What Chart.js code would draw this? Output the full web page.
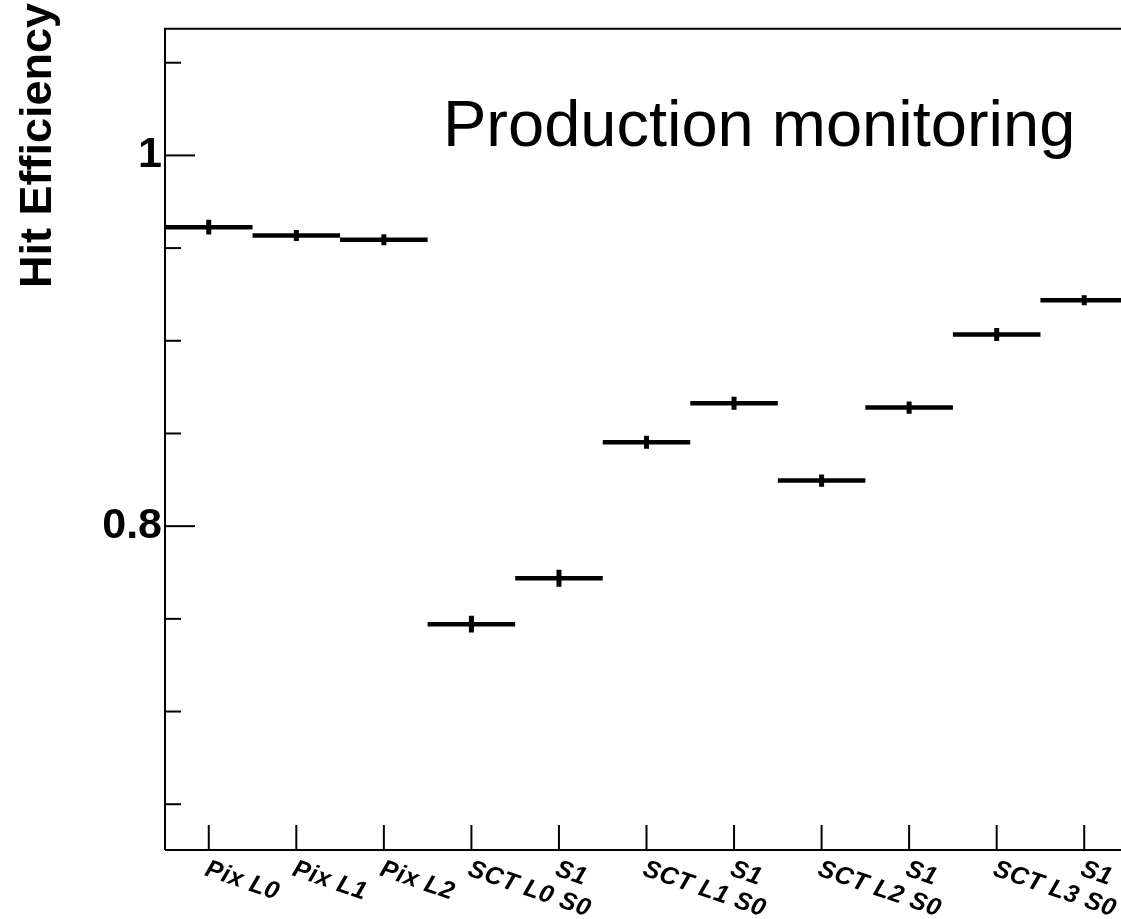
<!DOCTYPE html>
<html>
<head>
<meta charset="utf-8">
<title>Hit Efficiency</title>
<script src="https://cdn.jsdelivr.net/npm/chart.js@4.4.1/dist/chart.umd.min.js"></script>
<style>
  html, body { margin: 0; padding: 0; background: #fff; overflow: hidden; }
  #wrap { position: absolute; left: 0; top: 0; width: 1200px; height: 919px; }
</style>
</head>
<body>
<div id="wrap"><canvas id="effChart" width="1200" height="919"></canvas></div>
<script>
"use strict";

// data
const binLabels = ['Pix L0', 'Pix L1', 'Pix L2', 'SCT L0 S0', 'S1', 'SCT L1 S0', 'S1', 'SCT L2 S0', 'S1', 'SCT L3 S0', 'S1'];
const hitEfficiency = [0.9613, 0.9568, 0.9545, 0.7471, 0.7719, 0.8453, 0.8663, 0.8246, 0.8640, 0.9034, 0.9219];
const efficiencyError = [0.004, 0.003, 0.003, 0.0045, 0.0046, 0.0035, 0.0035, 0.0033, 0.0033, 0.0035, 0.0027];
const yMajorLabels = [0.8, 1];
const yMin = 0.6253;
const yMax = 1.0683;
const yStep = 0.05;

const FONT = "'Liberation Sans', Arial, Helvetica, sans-serif";

// half a bin in pixels, so the marker spans the whole bin
const halfBin = (ctx) => {
  const x = ctx.chart.scales.x;
  return (x.getPixelForValue(1) - x.getPixelForValue(0)) / 2;
};

const errorPx = (ctx) => {
  const y = ctx.chart.scales.y;
  const v = hitEfficiency[ctx.dataIndex];
  const e = efficiencyError[ctx.dataIndex];
  return Math.abs(y.getPixelForValue(v - e) - y.getPixelForValue(v + e)) / 2;
};

const isMajor = (v) => yMajorLabels.some(m => Math.abs(m - v) < 1e-6);

// ROOT style frame, inward ticks, rotated bin labels, titles
const rootFrame = {
  id: 'rootFrame',
  afterDraw(chart) {
    const { ctx, chartArea: a, scales } = chart;
    const xs = scales.x;
    const ys = scales.y;
    ctx.save();
    ctx.strokeStyle = '#000';
    ctx.fillStyle = '#000';
    ctx.lineWidth = 2;

    ctx.beginPath();
    ctx.moveTo(a.left, a.bottom);
    ctx.lineTo(a.left, a.top);
    ctx.lineTo(a.right, a.top);
    ctx.lineTo(a.right, a.bottom);
    ctx.lineTo(a.left, a.bottom);
    ctx.stroke();

    // y ticks, every 0.05 inside the range
    for (let k = Math.ceil(yMin / yStep); k * yStep <= yMax; k++) {
      const v = k * yStep;
      const py = ys.getPixelForValue(v);
      const len = isMajor(v) ? 30 : 16;
      ctx.beginPath();
      ctx.moveTo(a.left, py);
      ctx.lineTo(a.left + len, py);
      ctx.stroke();
    }

    // x ticks + labels
    ctx.font = 'italic bold 25px ' + FONT;
    ctx.letterSpacing = '0.5px';
    ctx.textAlign = 'left';
    ctx.textBaseline = 'alphabetic';
    binLabels.forEach((lab, i) => {
      const px = xs.getPixelForValue(i);
      ctx.beginPath();
      ctx.moveTo(px, a.bottom);
      ctx.lineTo(px, a.bottom - 25);
      ctx.stroke();
      ctx.save();
      ctx.translate(px - 5, a.bottom + 25);
      ctx.rotate(19 * Math.PI / 180);
      ctx.fillText(lab, 0, 0);
      ctx.restore();
    });
    ctx.letterSpacing = '0px';

    // axis title
    ctx.save();
    ctx.font = 'bold 45px ' + FONT;
    ctx.textAlign = 'right';
    ctx.translate(51, 3);
    ctx.rotate(-Math.PI / 2);
    ctx.fillText('Hit Efficiency', 0, 0);
    ctx.restore();

    // label
    ctx.font = '65px ' + FONT;
    ctx.textAlign = 'left';
    ctx.fillText('Production monitoring', 443, 146);

    ctx.restore();
  }
};

const effChart = new Chart(document.getElementById('effChart'), {
  type: 'line',
  data: {
    labels: binLabels,
    datasets: [{
      data: hitEfficiency,
      showLine: false,
      pointStyle: 'line',
      pointRadius: halfBin,
      pointBorderWidth: 4.5,
      pointBorderColor: '#000',
      pointBackgroundColor: '#000'
    }, {
      data: hitEfficiency,
      showLine: false,
      pointStyle: 'line',
      pointRotation: 90,
      pointRadius: errorPx,
      pointBorderWidth: 5,
      pointBorderColor: '#000',
      pointBackgroundColor: '#000'
    }]
  },
  options: {
    responsive: false,
    animation: false,
    events: [],
    layout: {
      padding: { left: 0, top: 26, right: 72, bottom: 0 }
    },
    plugins: {
      legend: { display: false },
      tooltip: { enabled: false }
    },
    scales: {
      x: {
        type: 'category',
        offset: true,
        grid: { display: false },
        border: { display: false },
        ticks: { display: false },
        afterFit: (scale) => { scale.height = 69; }
      },
      y: {
        min: yMin,
        max: yMax,
        grid: { display: false, drawTicks: false },
        border: { display: false },
        ticks: {
          stepSize: yStep,
          padding: 3,
          color: '#000',
          font: { family: FONT, size: 43, weight: 'bold' },
          callback: (v) => isMajor(v) ? String(Math.round(v * 10) / 10) : ''
        },
        afterFit: (scale) => { scale.width = 165; }
      }
    }
  },
  plugins: [rootFrame]
});
</script>
</body>
</html>
